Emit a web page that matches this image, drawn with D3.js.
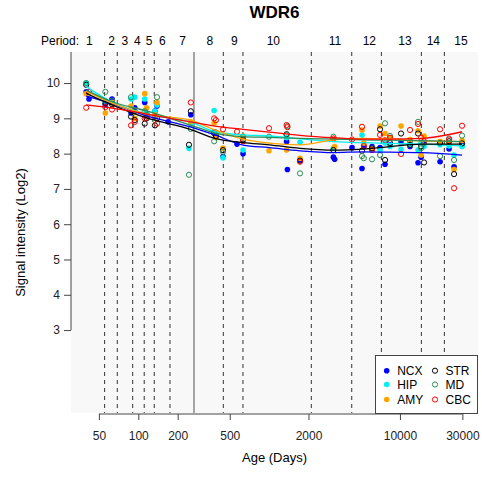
<!DOCTYPE html>
<html>
<head>
<meta charset="utf-8">
<script src="https://cdn.jsdelivr.net/npm/d3@7"></script>
<style>
  body { margin: 0; background: #fff; }
  svg { font-family: "Liberation Sans", Arial, sans-serif; }
</style>
</head>
<body>
<svg id="chart" width="482" height="481"></svg>
<script>
// sample ages (days) shared by all regions
const ages = [40, 42, 56, 63, 88, 94, 112, 116, 134, 139, 169, 244, 252, 380, 392, 444, 568, 632,
    998, 1360, 1380, 1723, 3100, 3170, 4303, 5129, 5300, 6119, 7046, 7691, 8398, 10195, 11946,
    13752, 14500, 15290, 20260, 23740, 25920, 29840];

const ncx = [9.75, 9.55, 9.38, 9.55, 9.15, 9.3, 9.45, 9.1, 9.2, 9.35, 8.9, null, 9.1, 8.62, 8.5, 7.92, 8.27, 8.0,
    null, 8.34, 7.55, 7.82, 7.9, 7.84, 8.17, 7.58, 8.2, 8.2, 8.17, 7.7, 8.25, 8.34, 8.2,
    7.74, 7.9, 8.3, 7.77, 8.13, 7.63, 8.25];
const hip = [10.0, null, 9.5, 9.45, 9.55, 9.6, 9.55, 9.15, 9.2, 9.38, null, 8.15, 8.85, 9.22, 8.6, 7.88, null, 8.1,
    null, 8.45, null, 8.32, 8.15, null, null, 8.53, null, 8.15, 8.1, 8.3, 8.2, 8.12, 8.25,
    8.1, 8.3, 8.2, 8.25, 8.22, 7.96, 8.2];
const amy = [9.7, null, 9.15, 9.45, 9.35, 9.0, 9.7, 9.3, 9.1, 9.45, null, null, 8.9, 8.87, 8.45, 8.16, null, 8.5,
    8.08, 8.1, null, 7.87, 8.4, 8.2, null, 8.67, 8.3, 8.13, 8.78, 8.57, 8.45, 8.78, 8.4,
    8.65, 7.96, 8.5, 8.35, 8.3, 7.55, 8.37];
const str = [9.95, null, 9.42, 9.4, 9.05, 8.95, 8.85, 9.0, 8.8, 9.0, null, 8.25, 9.2, 8.58, 8.5, 8.1, null, 8.4,
    null, 8.55, null, 7.8, 8.1, null, null, 8.08, null, 8.15, 8.69, 7.82, 8.3, 8.57, 8.25,
    8.57, 8.2, 7.75, 8.3, 8.35, 7.42, 8.29];
const md = [10.0, null, 9.75, 9.5, 9.6, 9.2, 9.2, 9.1, 8.95, 9.6, null, 7.4, 8.7, 8.35, 8.6, 8.05, null, 8.48,
    8.48, 8.53, 8.78, 7.44, 8.48, null, null, 7.93, 7.87, 7.84, 7.96, 8.86, 8.5, 8.3, 8.35,
    8.9, 8.15, 8.3, 7.93, 8.43, 7.82, 8.51];
const cbc = [9.3, 9.75, 9.32, 9.25, 8.8, 8.9, 9.0, 9.05, 9.05, 8.85, null, null, 9.45, 9.0, 8.95, 8.69, 8.62, 8.35,
    8.72, 8.81, 8.75, 7.77, 8.43, null, 8.4, 8.76, 8.22, 8.1, 8.53, 8.38, 8.45, 7.99, 8.67,
    8.84, 8.45, 8.35, 8.69, 8.4, 7.02, 8.79];

// fitted trend per region, read at these ages
const fitAges = [40, 63, 116, 250, 386, 632, 1000, 1723, 3135, 5129, 8398, 14500, 29840];
const fitNcx = [9.63, 9.42, 9.07, 8.76, 8.53, 8.24, 8.17, 8.08, 8.03, 8.05, 8.04, 8.03, 7.96];
const fitHip = [9.9, 9.46, 9.12, 8.90, 8.62, 8.53, 8.50, 8.42, 8.34, 8.31, 8.29, 8.27, 8.22];
const fitAmy = [9.77, 9.43, 9.12, 8.95, 8.67, 8.41, 8.30, 8.25, 8.39, 8.43, 8.42, 8.36, 8.34];
const fitStr = [9.71, 9.38, 9.01, 8.69, 8.43, 8.31, 8.25, 8.15, 8.10, 8.13, 8.20, 8.27, 8.27];
const fitMd = [9.80, 9.47, 9.21, 8.81, 8.58, 8.48, 8.46, 8.43, 8.41, 8.39, 8.38, 8.37, 8.34];
const fitCbc = [9.38, 9.29, 9.12, 8.90, 8.78, 8.69, 8.61, 8.52, 8.45, 8.41, 8.41, 8.43, 8.62];

const regions = ["NCX", "HIP", "AMY", "STR", "MD", "CBC"];
const regionValues = [ncx, hip, amy, str, md, cbc];
const regionFits = [fitNcx, fitHip, fitAmy, fitStr, fitMd, fitCbc];
const regionColors = ["#0000ff", "#00f0f0", "#ffa500", "#000000", "#2e8b57", "#ff0000"];
const regionFilled = [true, true, true, false, false, false];

const periodBounds = [55.3, 69.1, 90.6, 111, 132.5, 174.7, 446.7, 631, 2102, 4281, 7210, 14577, 21850];
const birthAge = 266.6;
const periodNames = ["1", "2", "3", "4", "5", "6", "7", "8", "9", "10", "11", "12", "13", "14", "15"];
const periodLabelAges = [42.2, 62.6, 79.1, 98.3, 120.7, 152.6, 218.5, 353, 542, 1077, 3190, 5834, 10940, 17990, 29310];

const xTicks = [50, 100, 200, 500, 2000, 10000, 30000];
const yTicks = [3, 4, 5, 6, 7, 8, 9, 10];

const svg = d3.select("#chart");
const plotLeft = 71, plotRight = 478, plotTop = 52, plotBottom = 413;

const x = d3.scaleLog().domain([30.6, 39500]).range([plotLeft, plotRight]);
const y = d3.scaleLinear().domain([0.65, 10.88]).range([plotBottom, plotTop]);

svg.append("rect")
    .attr("x", plotLeft).attr("y", plotTop)
    .attr("width", plotRight - plotLeft).attr("height", plotBottom - plotTop)
    .attr("fill", "#f8f8f8");

// title
svg.append("text")
    .attr("x", (plotLeft + plotRight) / 2).attr("y", 18)
    .attr("text-anchor", "middle")
    .style("font-size", "17px").style("font-weight", "bold")
    .text("WDR6");

// period labels
svg.append("text")
    .attr("x", 79).attr("y", 45)
    .attr("text-anchor", "end")
    .style("font-size", "12px")
    .text("Period:");

svg.append("g").selectAll("text")
    .data(periodNames)
    .enter()
    .append("text")
    .attr("x", (d, i) => x(periodLabelAges[i]))
    .attr("y", 45)
    .attr("text-anchor", "middle")
    .style("font-size", "12px")
    .text(d => d);

// period boundaries
svg.append("g").selectAll("line")
    .data(periodBounds)
    .enter()
    .append("line")
    .attr("x1", d => x(d)).attr("x2", d => x(d))
    .attr("y1", plotTop).attr("y2", plotBottom)
    .attr("stroke", "#333")
    .attr("stroke-width", 1)
    .attr("stroke-dasharray", "4,4");

svg.append("line")
    .attr("x1", x(birthAge)).attr("x2", x(birthAge))
    .attr("y1", plotTop).attr("y2", plotBottom)
    .attr("stroke", "#777")
    .attr("stroke-width", 1.3);

// points
regions.forEach((r, k) => {
    const pts = ages.map((a, i) => [a, regionValues[k][i]]).filter(d => d[1] != null);
    svg.append("g").selectAll("circle")
        .data(pts)
        .enter()
        .append("circle")
        .attr("cx", d => x(d[0]))
        .attr("cy", d => y(d[1]))
        .attr("r", regionFilled[k] ? 2.8 : 2.6)
        .attr("fill", regionFilled[k] ? regionColors[k] : "none")
        .attr("stroke", regionColors[k])
        .attr("stroke-width", regionFilled[k] ? 0 : 1);
});

// trend lines
const line = d3.line()
    .x(d => x(d[0]))
    .y(d => y(d[1]))
    .curve(d3.curveMonotoneX);

regions.forEach((r, k) => {
    svg.append("path")
        .datum(fitAges.map((a, i) => [a, regionFits[k][i]]))
        .attr("d", line)
        .attr("fill", "none")
        .attr("stroke", regionColors[k])
        .attr("stroke-width", 1.3);
});

// y axis
const yAxis = svg.append("g")
    .attr("transform", `translate(${plotLeft},0)`)
    .call(d3.axisLeft(y).tickValues(yTicks).tickSize(7).tickPadding(4).tickSizeOuter(0));
yAxis.select(".domain").remove();
yAxis.append("line")
    .attr("x1", 0).attr("x2", 0)
    .attr("y1", plotTop).attr("y2", y(3))
    .attr("stroke", "#444");
yAxis.selectAll(".tick line").attr("stroke", "#444");
yAxis.selectAll(".tick text")
    .style("font-size", "12px")
    .style("font-family", "Liberation Sans, Arial, sans-serif")
    .attr("fill", "#222");

// x axis
const xAxis = svg.append("g")
    .attr("transform", `translate(0,${plotBottom + 1})`)
    .call(d3.axisBottom(x).tickValues(xTicks).tickFormat(d3.format("d")).tickSize(6).tickPadding(11).tickSizeOuter(0));
xAxis.select(".domain").remove();
xAxis.append("line")
    .attr("x1", x(50)).attr("x2", x(30000))
    .attr("y1", 0).attr("y2", 0)
    .attr("stroke", "#444");
xAxis.selectAll(".tick line").attr("stroke", "#444");
xAxis.selectAll(".tick text")
    .style("font-size", "12px")
    .style("font-family", "Liberation Sans, Arial, sans-serif")
    .attr("fill", "#222");

// axis titles
svg.append("text")
    .attr("x", (plotLeft + plotRight) / 2).attr("y", 462)
    .attr("text-anchor", "middle")
    .style("font-size", "13px")
    .text("Age (Days)");

svg.append("text")
    .attr("transform", `translate(25,${(plotTop + plotBottom) / 2}) rotate(-90)`)
    .attr("text-anchor", "middle")
    .style("font-size", "13px")
    .text("Signal intensity (Log2)");

// legend
const legend = svg.append("g");
legend.append("rect")
    .attr("x", 375.5).attr("y", 355.5)
    .attr("width", 102).attr("height", 58)
    .attr("fill", "#fff")
    .attr("stroke", "#444");

const legendRows = [370.7, 384.5, 399.5];
regions.forEach((r, k) => {
    const col = k < 3 ? 0 : 1;
    const row = k % 3;
    const sx = col === 0 ? 386.7 : 435;
    legend.append("circle")
        .attr("cx", sx).attr("cy", legendRows[row])
        .attr("r", regionFilled[k] ? 2.8 : 2.6)
        .attr("fill", regionFilled[k] ? regionColors[k] : "none")
        .attr("stroke", regionColors[k])
        .attr("stroke-width", regionFilled[k] ? 0 : 1);
    legend.append("text")
        .attr("x", sx + 10.5).attr("y", legendRows[row] + 4.3)
        .style("font-size", "12px")
        .text(r);
});
</script>
</body>
</html>
